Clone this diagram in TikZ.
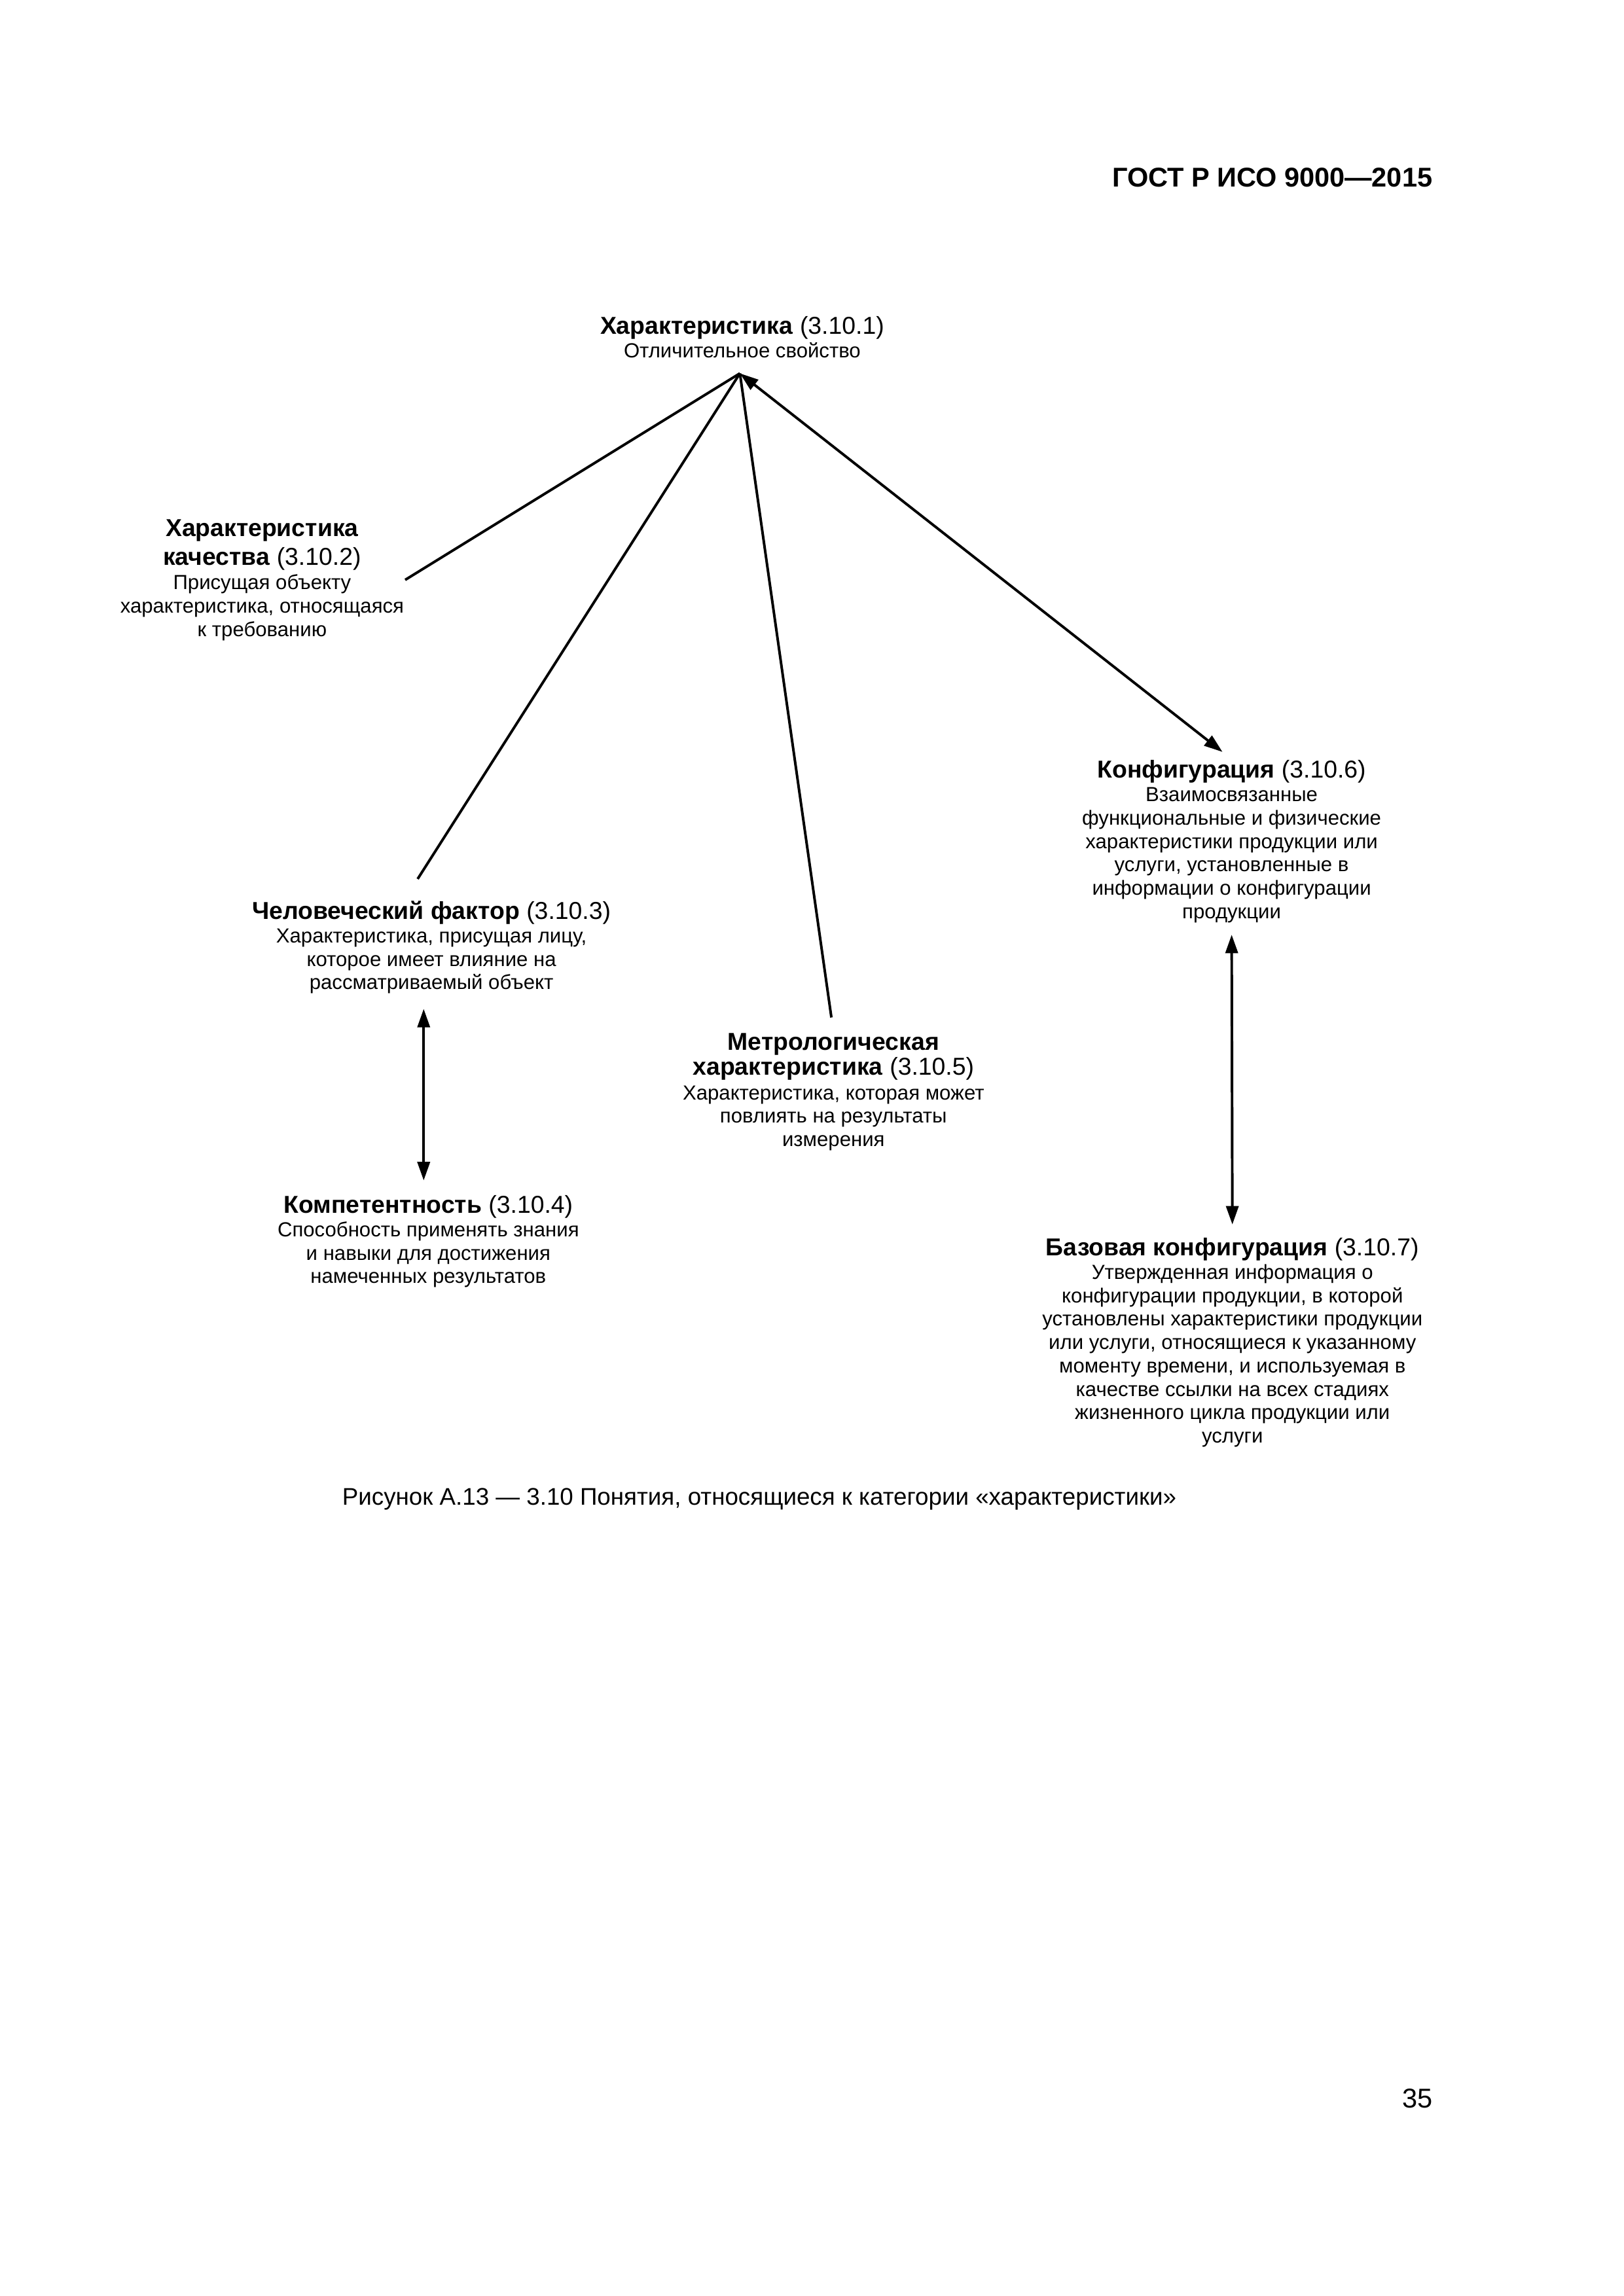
\documentclass[tikz,border=0pt]{standalone}
\usepackage{fontspec}
\setmainfont{Liberation Sans}
\usetikzlibrary{arrows.meta}
\newcommand{\termtitle}{\fontsize{9}{10}\selectfont}

\begin{document}
\begin{tikzpicture}[>={Triangle[length=2.4mm,width=1.6mm]}, line width=0.95pt,
		term/.style={align=center, inner sep=0pt, font=\fontsize{7.5}{8.6}\selectfont}]
		\fill[white] (0,0) rectangle (21,29.7);
		\node[anchor=base east, font=\fontsize{10}{12}\selectfont\bfseries] (gost) at (18.66,27.28) {ГОСТ Р ИСО 9000—2015};
		\node[term, anchor=north] (char) at (9.60,25.62) {{\termtitle\textbf{Характеристика} (3.10.1)}\\Отличительное свойство};
		\node[term, anchor=north] (qual) at (3.39,23.00) {{\termtitle\textbf{Характеристика}}\\[2pt]{\termtitle\textbf{качества} (3.10.2)}\\[0.5pt]Присущая объекту\\характеристика, относящаяся\\к требованию};
		\node[term, anchor=north] (hum) at (5.58,18.06) {{\termtitle\textbf{Человеческий фактор} (3.10.3)}\\Характеристика, присущая лицу,\\которое имеет влияние на\\рассматриваемый объект};
		\node[term, anchor=north] (comp) at (5.54,14.25) {{\termtitle\textbf{Компетентность} (3.10.4)}\\Способность применять знания\\и навыки для достижения\\намеченных результатов};
		\node[term, anchor=north] (metro) at (10.78,16.35) {{\termtitle\textbf{Метрологическая}}\\[0.5pt]{\termtitle\textbf{характеристика} (3.10.5)}\\[0.5pt]Характеристика, которая может\\повлиять на результаты\\измерения};
		\node[term, anchor=north] (conf) at (15.93,19.88) {{\termtitle\textbf{Конфигурация} (3.10.6)}\\Взаимосвязанные\\функциональные и физические\\характеристики продукции или\\услуги, установленные в\\информации о конфигурации\\продукции};
		\node[term, anchor=north] (base) at (15.94,13.70) {{\termtitle\textbf{Базовая конфигурация} (3.10.7)}\\Утвержденная информация о\\конфигурации продукции, в которой\\установлены характеристики продукции\\или услуги, относящиеся к указанному\\моменту времени, и используемая в\\качестве ссылки на всех стадиях\\жизненного цикла продукции или\\услуги};
		\coordinate (apex) at (9.57,24.87);
		\draw (apex) -- (qual.east);
		\draw[shorten >=3.2mm] (apex) -- ([xshift=-3.5mm]hum.north);
		\draw[shorten >=1.9mm] (apex) -- (metro.north);
		\draw[<->, shorten >=1.5mm] (apex) -- (conf.north);
		\draw[<->, shorten <=1.8mm, shorten >=1.8mm] ([xshift=-1mm]hum.south) -- ([xshift=-1mm]hum.south |- comp.north);
		\draw[<->, shorten <=1.4mm, shorten >=1.6mm] (conf.south) -- (base.north);
		\node[anchor=base, font=\fontsize{8.85}{11}\selectfont] (capt) at (9.82,10.23) {Рисунок А.13 — 3.10 Понятия, относящиеся к категории «характеристики»};
		\node[anchor=base east, font=\fontsize{10}{12}\selectfont] (page) at (18.66,2.43) {35};
	\end{tikzpicture}
\end{document}
